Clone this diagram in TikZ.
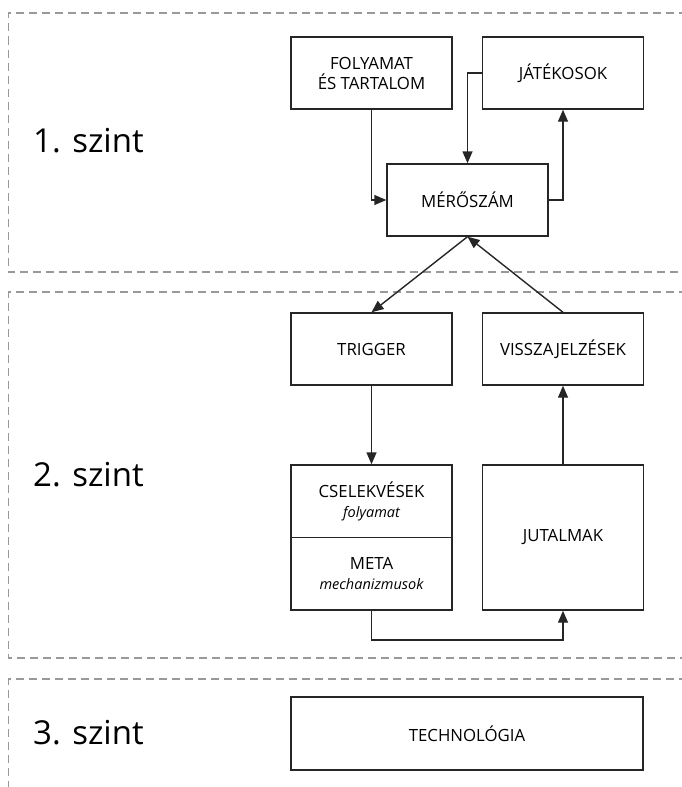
\documentclass[tikz,border=0pt]{standalone}
\usepackage{fontspec}
\setmainfont{Open Sans}
\usetikzlibrary{arrows.meta}
% smaller italic second line inside a box
\newcommand{\subline}[1]{{\fontsize{14.5}{18}\selectfont\itshape #1}}
\begin{document}
\begin{tikzpicture}[x=1pt,y=-1pt,
  box/.style={draw=black!85, line width=1.4pt, minimum width=161pt, minimum height=72pt,
    inner sep=0pt, align=center, font=\fontsize{16.8}{20}\selectfont},
  link/.style={draw=black!85, line width=1.4pt, -{Triangle[length=12pt,width=10pt]}},
  zone/.style={draw=black!40, line width=1.1pt, dash pattern=on 8pt off 5pt},
  level/.style={font=\fontsize{33}{38}\selectfont, anchor=west, inner sep=0pt}]
  \useasboundingbox (0,0) rectangle (682,787);
  \clip (0,0) rectangle (682,787);

  % level frames
  \draw[zone] (700,13) -- (8.5,13) -- (8.5,272) -- (700,272);
  \draw[zone] (700,292) -- (8.5,292) -- (8.5,658) -- (700,658);
  \draw[zone] (700,679) -- (8.5,679) -- (8.5,800);

  % level titles
  \node[level] (l1) at (33,141) {1. szint};
  \node[level] (l2) at (33,475) {2. szint};
  \node[level] (l3) at (33,733) {3. szint};

  % level 1
  \node[box] (folyamat) at (371.5,73) {FOLYAMAT\\ÉS TARTALOM};
  \node[box] (jatekos) at (563,73) {JÁTÉKOSOK};
  \node[box] (meres) at (467.5,200) {MÉRŐSZÁM};

  % level 2
  \node[box] (trigger) at (371.5,349) {TRIGGER};
  \node[box] (vissza) at (563,349) {VISSZAJELZÉSEK};
  \node[box, minimum height=72.5pt] (cs) at (371.5,501.25) {CSELEKVÉSEK\\\subline{folyamat}};
  \node[box, minimum height=72.5pt] (meta) at (371.5,573.75) {META\\\subline{mechanizmusok}};
  \node[box, minimum height=145pt] (jutalom) at (563,537.5) {JUTALMAK};
  \coordinate (turn) at (371.5,640);

  % level 3
  \node[box, minimum width=352pt, minimum height=73pt] (tech) at (467,733.5) {TECHNOLÓGIA};

  % connectors
  \draw[link] (folyamat.south) |- (meres.west);
  \draw[link] (jatekos.west) -| (meres.north);
  \draw[link] (meres.east) -| (jatekos.south);
  \draw[link] (meres.south) -- (trigger.north);
  \draw[link] (vissza.north) -- (meres.south);
  \draw[link] (trigger.south) -- (cs.north);
  \draw[link] (jutalom.north) -- (vissza.south);
  \draw[link] (meta.south) -- (turn) -| (jutalom.south);
\end{tikzpicture}
\end{document}
